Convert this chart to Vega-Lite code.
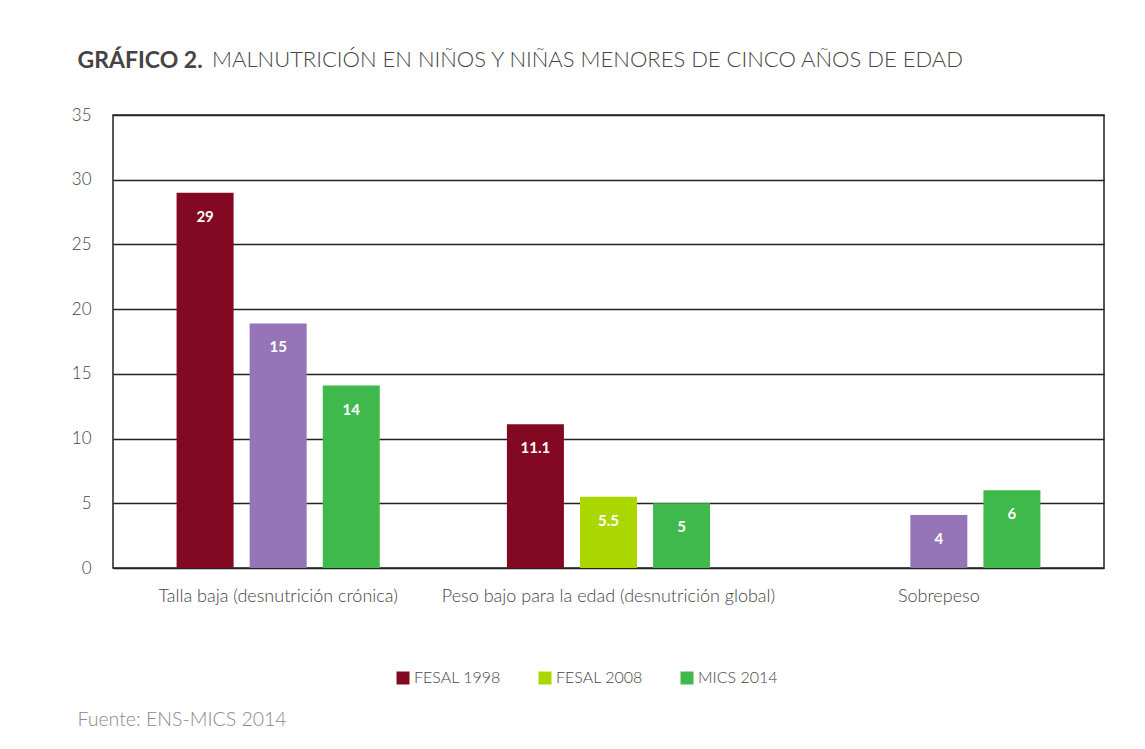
{
  "$schema": "https://vega.github.io/schema/vega-lite/v6.json",
  "autosize": "none",
  "width": 991,
  "height": 453,
  "padding": {"left": 113, "top": 115, "right": 41, "bottom": 181},
  "background": "white",
  "title": {
    "text": "MALNUTRICIÓN EN NIÑOS Y NIÑAS MENORES DE CINCO AÑOS DE EDAD",
    "anchor": "start",
    "frame": "group",
    "dx": 99,
    "dy": 43,
    "font": "Lato",
    "fontSize": 22,
    "fontWeight": 300,
    "color": "#444444",
    "offset": 20
  },
  "data": {
    "values": [
      {"indicador": "Talla baja (desnutrición crónica)", "serie": "FESAL 1998", "categoria": "FESAL 1998", "valor": 29, "etiqueta": "29"},
      {"indicador": "Talla baja (desnutrición crónica)", "serie": "FESAL 2008", "categoria": "FESAL 2008 (b)", "valor": 18.9, "etiqueta": "15"},
      {"indicador": "Talla baja (desnutrición crónica)", "serie": "MICS 2014", "categoria": "MICS 2014", "valor": 14.1, "etiqueta": "14"},
      {"indicador": "Peso bajo para la edad (desnutrición global)", "serie": "FESAL 1998", "categoria": "FESAL 1998", "valor": 11.1, "etiqueta": "11.1"},
      {"indicador": "Peso bajo para la edad (desnutrición global)", "serie": "FESAL 2008", "categoria": "FESAL 2008", "valor": 5.5, "etiqueta": "5.5"},
      {"indicador": "Peso bajo para la edad (desnutrición global)", "serie": "MICS 2014", "categoria": "MICS 2014", "valor": 5, "etiqueta": "5"},
      {"indicador": "Sobrepeso", "serie": "FESAL 2008", "categoria": "FESAL 2008 (b)", "valor": 4.1, "etiqueta": "4"},
      {"indicador": "Sobrepeso", "serie": "MICS 2014", "categoria": "MICS 2014", "valor": 6, "etiqueta": "6"}
    ]
  },
  "config": {
    "view": {"stroke": "#222222", "strokeWidth": 1.5},
    "font": "Lato"
  },
  "encoding": {
    "x": {
      "field": "indicador",
      "type": "nominal",
      "sort": ["Talla baja (desnutrición crónica)", "Peso bajo para la edad (desnutrición global)", "Sobrepeso"],
      "scale": {"paddingInner": 0, "paddingOuter": 0},
      "axis": {
        "title": "Fuente: ENS-MICS 2014",
        "titleFont": "Lato",
        "titleFontSize": 19.5,
        "titleFontWeight": 300,
        "titleColor": "#8a8a8a",
        "titleAnchor": "start",
        "titleAlign": "left",
        "titleBaseline": "alphabetic",
        "titleX": -36,
        "titleY": 157,
        "labelAngle": 0,
        "labelFontSize": 18,
        "labelFontWeight": 300,
        "labelColor": "#444444",
        "labelPadding": 19,
        "labelLimit": 400,
        "domain": false,
        "ticks": false
      }
    },
    "xOffset": {
      "field": "serie",
      "type": "nominal",
      "scale": {"domain": ["FESAL 1998", "FESAL 2008", "MICS 2014"], "paddingInner": 0.22, "paddingOuter": 0.87}
    },
    "y": {
      "field": "valor",
      "type": "quantitative",
      "scale": {"domain": [0, 35], "nice": false},
      "axis": {
        "values": [0, 5, 10, 15, 20, 25, 30, 35],
        "title": "GRÁFICO 2.",
        "titleFont": "Lato",
        "titleFontSize": 23,
        "titleFontWeight": "bold",
        "titleColor": "#444444",
        "titleAngle": 0,
        "titleAlign": "left",
        "titleBaseline": "alphabetic",
        "titleX": -36,
        "titleY": -48,
        "grid": true,
        "gridColor": "#222222",
        "gridWidth": 1.5,
        "domain": false,
        "ticks": false,
        "labelFontSize": 17,
        "labelFontWeight": 300,
        "labelColor": "#444444",
        "labelPadding": 22
      }
    }
  },
  "layer": [
    {
      "mark": {"type": "bar"},
      "encoding": {
        "color": {
          "field": "categoria",
          "type": "nominal",
          "scale": {
            "domain": ["FESAL 1998", "FESAL 2008", "MICS 2014", "FESAL 2008 (b)"],
            "range": ["#830822", "#acd600", "#3fb94b", "#9575b7"]
          },
          "legend": {
            "values": ["FESAL 1998", "FESAL 2008", "MICS 2014"],
            "title": null,
            "orient": "none",
            "legendX": 282,
            "legendY": 555,
            "direction": "horizontal",
            "symbolType": "square",
            "symbolSize": 169,
            "symbolStrokeWidth": 0,
            "labelFontSize": 16,
            "labelFontWeight": 300,
            "labelColor": "#444444",
            "labelOffset": 3,
            "columnPadding": 36
          }
        }
      }
    },
    {
      "mark": {"type": "text", "dy": 24, "color": "white", "fontWeight": "bold", "fontSize": 15, "font": "Lato"},
      "encoding": {
        "text": {"field": "etiqueta", "type": "nominal"}
      }
    }
  ]
}
